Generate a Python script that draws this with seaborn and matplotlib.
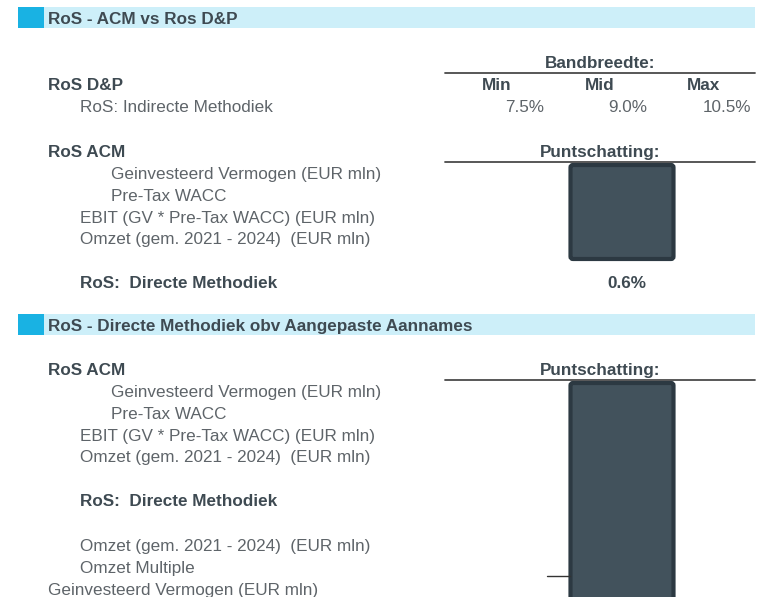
import numpy as np
import pandas as pd
import matplotlib.pyplot as plt
import seaborn as sns
from matplotlib.patches import Rectangle, FancyBboxPatch

sns.set_theme(style="white")
plt.rcParams['font.family'] = ['Liberation Sans', 'DejaVu Sans']

# data
section_titles = ['RoS - ACM vs Ros D&P', 'RoS - Directe Methodiek obv Aangepaste Aannames']
band_labels = ['Min', 'Mid', 'Max']
band_values = [7.5, 9.0, 10.5]
ros_direct = 0.6
acm_rows = ['Geinvesteerd Vermogen (EUR mln)', 'Pre-Tax WACC',
            'EBIT (GV * Pre-Tax WACC) (EUR mln)', 'Omzet (gem. 2021 - 2024)  (EUR mln)']
acm_indent = [111, 111, 80, 80]
extra_rows = ['Omzet (gem. 2021 - 2024)  (EUR mln)', 'Omzet Multiple', 'Geinvesteerd Vermogen (EUR mln)']
extra_indent = [80, 80, 48]

grey = '#5e6469'
dark = '#3e4a52'
light_blue = '#cdeff9'
blue = '#19b2e3'
box_fill = '#42525c'
box_edge = '#2c3942'
fs = 12.3
dy = 1.5  # small baseline shift


def txt(x, y, s, bold=False, ha='left'):
    ax.text(x, y + dy, s, fontsize=fs, fontweight='bold' if bold else 'normal',
            color=dark if bold else grey, va='center', ha=ha)


fig = plt.figure(figsize=(7.62, 5.97), dpi=100)
ax = fig.add_axes([0, 0, 1, 1])
ax.set_xlim(0, 762)
ax.set_ylim(597, 0)
ax.axis('off')


def header(y, title):
    ax.add_patch(Rectangle((18, y), 737, 21, color=light_blue, lw=0))
    ax.add_patch(Rectangle((18, y), 26, 21, color=blue, lw=0))
    txt(48, y + 10.5, title, bold=True)


def rows(y0, labels, indents, step=21.8):
    for i, (lab, x) in enumerate(zip(labels, indents)):
        txt(x, y0 + i * step, lab)


def colhead(y, label):
    txt(600, y, label, bold=True, ha='center')
    ax.plot([445, 755], [y + 11, y + 11], color='#4a4a4a', lw=1.3)


def redact(y0, y1):
    ax.add_patch(FancyBboxPatch((570.5, y0), 103, y1 - y0,
                                boxstyle='round,pad=0,rounding_size=2.5',
                                fc=box_fill, ec=box_edge, lw=3))


# section 1
header(7, section_titles[0])
colhead(62, 'Bandbreedte:')
txt(48, 84, 'RoS D&P', bold=True)
txt(80, 106, 'RoS: Indirecte Methodiek')
for lab, val, xc in zip(band_labels, band_values, [497, 600, 704]):
    txt(xc, 84, lab, bold=True, ha='center')
    txt(xc + 47, 106, f'{val:.1f}%', ha='right')

txt(48, 151, 'RoS ACM', bold=True)
colhead(151, 'Puntschatting:')
rows(173, acm_rows, acm_indent)
redact(165, 259)
txt(80, 282, 'RoS:  Directe Methodiek', bold=True)
txt(627, 282, f'{ros_direct:.1f}%', bold=True, ha='center')

# section 2
header(314, section_titles[1])
txt(48, 369, 'RoS ACM', bold=True)
colhead(369, 'Puntschatting:')
rows(391, acm_rows, acm_indent)
txt(80, 500, 'RoS:  Directe Methodiek', bold=True)
rows(545, extra_rows, extra_indent)
ax.plot([547, 570], [576, 576], color='#333333', lw=1)
redact(383, 610)

fig.savefig('out.png', dpi=100)
